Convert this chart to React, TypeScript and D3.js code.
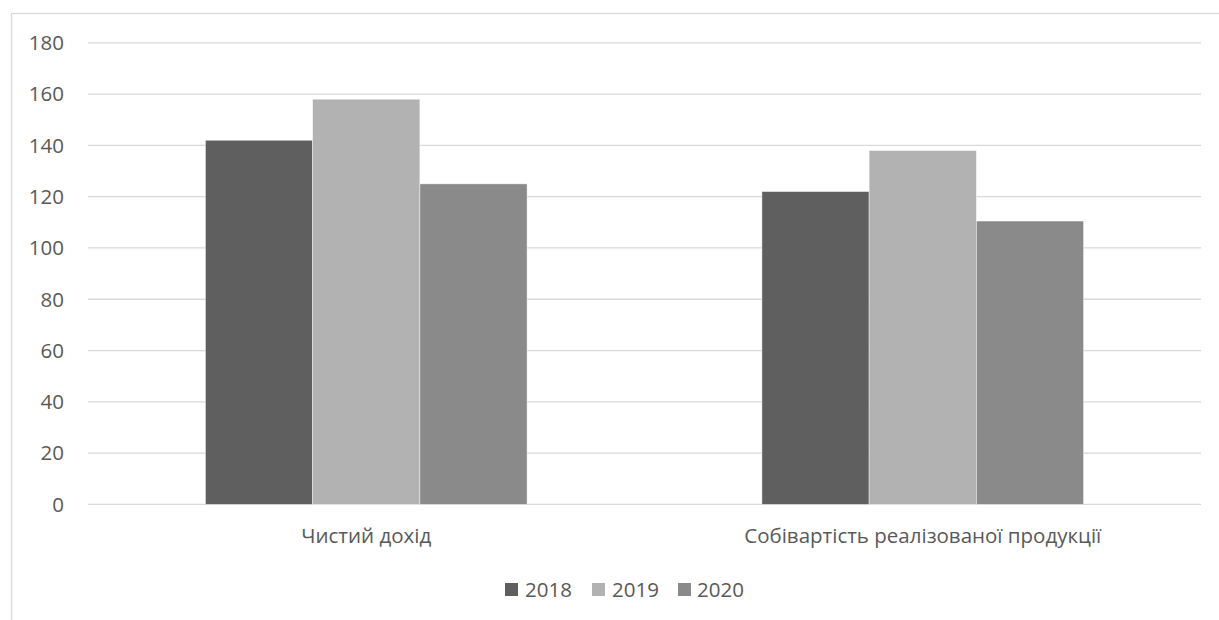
import React from "react";
import * as d3 from "d3";

const categories = ["Чистий дохід", "Собівартість реалізованої продукції"];
const seriesNames = ["2018", "2019", "2020"];
const values2018 = [142, 122];
const values2019 = [158, 138];
const values2020 = [125, 110.5];
const seriesValues = [values2018, values2019, values2020];
const yTicks = [0, 20, 40, 60, 80, 100, 120, 140, 160, 180];
const seriesColors = ["#5f5f5f", "#b2b2b2", "#8a8a8a"];

const W = 1219;
const H = 620;
const FONT = "'Open Sans', sans-serif";
const TEXT = "#595959";
const FS = 20.5;

export default function App() {
  const plotLeft = 88;
  const plotRight = 1201;
  const y = d3.scaleLinear().domain([0, 180]).range([504.4, 42.8]);
  const x = d3.scaleBand<string>().domain(categories).range([plotLeft, plotRight]).padding(0);
  const gapRatio = 2.19;
  const groupW = (x.bandwidth() * 3) / (3 + gapRatio);
  const inner = d3
    .scaleBand<string>()
    .domain(seriesNames)
    .range([-groupW / 2, groupW / 2])
    .padding(0);

  // legend layout
  const legendItems = [
    { name: "2018", sx: 505, tx: 525 },
    { name: "2019", sx: 592, tx: 612 },
    { name: "2020", sx: 678, tx: 697 },
  ];

  return (
    <svg
      width={W}
      height={H}
      style={{ position: "absolute", left: 0, top: 0, background: "#fff" }}
      fontFamily={FONT}
    >
      <rect x={0} y={0} width={W} height={H} fill="#fff" />
      <rect x={11.5} y={13.5} width={W + 20} height={H + 20} fill="none" stroke="#d9d9d9" strokeWidth={1.3} />

      {yTicks.map((t) => (
        <g key={t}>
          <line x1={plotLeft} x2={plotRight} y1={y(t)} y2={y(t)} stroke="#d9d9d9" strokeWidth={1.3} />
          <text x={64} y={y(t)} dy="0.36em" textAnchor="end" fontSize={FS} fill={TEXT}>
            {t}
          </text>
        </g>
      ))}

      {categories.map((c, ci) => {
        const cx = (x(c) as number) + x.bandwidth() / 2;
        return (
          <g key={c}>
            {seriesNames.map((s, si) => {
              const v = seriesValues[si][ci];
              const bx = cx + (inner(s) as number);
              return (
                <rect
                  key={s}
                  x={bx}
                  y={y(v)}
                  width={inner.bandwidth()}
                  height={y(0) - y(v)}
                  fill={seriesColors[si]}
                  stroke="#ffffff"
                  strokeOpacity={0.6}
                  strokeWidth={0.75}
                />
              );
            })}
            <text x={cx} y={543} textAnchor="middle" fontSize={FS} fill={TEXT}>
              {c}
            </text>
          </g>
        );
      })}

      {legendItems.map((it, i) => (
        <g key={it.name}>
          <rect x={it.sx} y={583} width={13} height={13} fill={seriesColors[i]} />
          <text x={it.tx} y={596.5} fontSize={FS} fill={TEXT}>
            {it.name}
          </text>
        </g>
      ))}
    </svg>
  );
}
